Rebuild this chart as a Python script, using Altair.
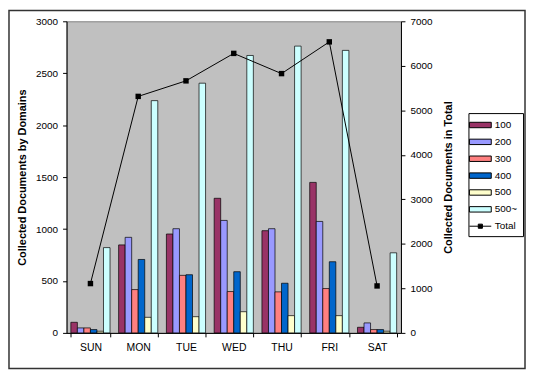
import altair as alt
import pandas as pd

FONT = "Liberation Sans"

days = ["SUN", "MON", "TUE", "WED", "THU", "FRI", "SAT"]
series = ["100", "200", "300", "400", "500", "500~"]
v100 = [102, 847, 952, 1296, 984, 1449, 54]
v200 = [48, 920, 1003, 1083, 1003, 1073, 96]
v300 = [48, 417, 554, 398, 395, 427, 32]
v400 = [32, 707, 560, 589, 478, 685, 32]
v500 = [16, 150, 156, 204, 166, 166, 16]
v500p = [821, 2236, 2404, 2671, 2761, 2720, 771]
totals = [1108, 5313, 5662, 6279, 5825, 6538, 1055]
colors = ["#993366", "#9999FF", "#FF8080", "#0066CC", "#FFFFCC", "#CCFFFF"]

rows = []
for s, vals in zip(series, [v100, v200, v300, v400, v500, v500p]):
    for d, v in zip(days, vals):
        rows.append({"day": d, "series": s, "value": v})
bar_df = pd.DataFrame(rows)
tot_df = pd.DataFrame({"day": days, "series": ["Total"] * len(days), "total": totals})

rect_path = "M-1.69,-0.42L1.69,-0.42L1.69,0.42L-1.69,0.42Z"
total_path = "M-1.69,0L1.69,0M-0.32,-0.32L0.32,-0.32L0.32,0.32L-0.32,0.32Z"
shape_expr = "datum.value === 'Total' ? '" + total_path + "' : '" + rect_path + "'"

x_axis = alt.Axis(title=None, labelAngle=0, tickBand="extent", tickSize=4,
                  tickColor="#000", domainColor="#000", labelFontSize=10.5,
                  labelColor="#000", labelPadding=6, labelFont=FONT)
x_enc = alt.X("day:N", sort=days,
              scale=alt.Scale(paddingInner=0.18, paddingOuter=0.09),
              axis=x_axis)

left_axis = alt.Axis(title="Collected Documents by Domains", values=[0, 500, 1000, 1500, 2000, 2500, 3000],
                     format="d",
                     tickSize=4, tickColor="#000", domainColor="#000", grid=False,
                     labelFontSize=10, labelColor="#000", labelFont=FONT, labelPadding=5,
                     titleFont=FONT, titleFontSize=11, titleFontWeight="bold",
                     titleColor="#000", titlePadding=8)
right_axis = alt.Axis(title="Collected Documents in Total", orient="right",
                      values=[0, 1000, 2000, 3000, 4000, 5000, 6000, 7000],
                      format="d",
                      tickSize=4, tickColor="#000", domainColor="#000", grid=False,
                      labelFontSize=10, labelColor="#000", labelFont=FONT, labelPadding=5,
                      titleFont=FONT, titleFontSize=11, titleFontWeight="bold",
                      titleColor="#000", titlePadding=11, titleAngle=270, titleBaseline="top")

legend = alt.Legend(
    title=None, orient="none", legendX=405, legendY=92.5,
    symbolSize=169, symbolType=alt.ExprRef(expr=shape_expr),
    symbolStrokeColor="#000", symbolStrokeWidth=1,
    labelFontSize=10, labelFont=FONT, labelColor="#000",
    labelOffset=7.5, rowPadding=5, padding=5, strokeColor="#000", fillColor="#fff",
)

frame = alt.Chart(pd.DataFrame({"k": [0]})).mark_rect(
    fillOpacity=0, stroke="#333", strokeWidth=1.5
).encode(x=alt.value(-58), x2=alt.value(462), y=alt.value(-11), y2=alt.value(350))

bars = alt.Chart(bar_df).mark_bar(stroke="#000", strokeWidth=0.7).encode(
    x=x_enc,
    xOffset=alt.XOffset("series:N", sort=series, scale=alt.Scale(paddingInner=0, paddingOuter=0)),
    y=alt.Y("value:Q", scale=alt.Scale(domain=[0, 3000], nice=False), axis=left_axis),
    color=alt.Color("series:N",
                    scale=alt.Scale(domain=series + ["Total"], range=colors + ["#000000"]),
                    legend=legend),
)

y_right = alt.Y("total:Q", scale=alt.Scale(domain=[0, 7000], nice=False), axis=right_axis)
line = alt.Chart(tot_df).mark_line(color="#000", strokeWidth=1).encode(x=x_enc, y=y_right)
pts = alt.Chart(tot_df).mark_point(shape="square", filled=True, color="#000", size=30, opacity=1).encode(
    x=x_enc, y=y_right)

chart = alt.layer(frame, bars, alt.layer(line, pts)).resolve_scale(y="independent").properties(
    width=337, height=314,
    autosize=alt.AutoSizeParams(type="none"),
    padding={"left": 59, "top": 12, "right": 126, "bottom": 37},
    background="#ffffff",
).configure_view(fill="#c0c0c0", stroke="#808080", strokeWidth=1)

chart.save("out.html", embed_options={"renderer": "svg", "actions": False})
